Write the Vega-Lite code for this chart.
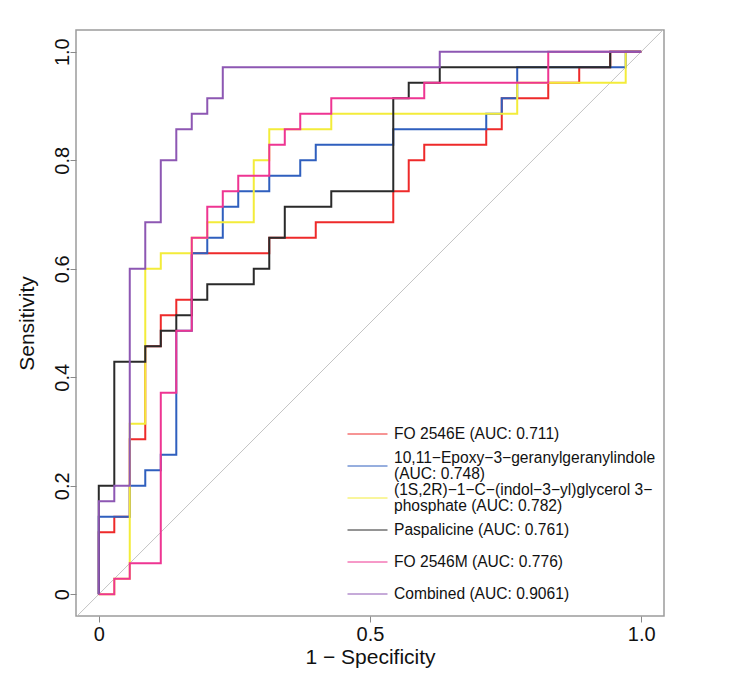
{
  "$schema": "https://vega.github.io/schema/vega-lite/v6.json",
  "width": 588,
  "height": 586,
  "autosize": {"type": "none"},
  "padding": {"left": 76, "top": 30, "right": 92, "bottom": 70},
  "background": "white",
  "config": {
    "font": "Liberation Sans",
    "view": {"stroke": "#9c9c9c", "strokeWidth": 1.5},
    "axis": {
      "grid": false,
      "domain": false,
      "tickColor": "#8a8a8a",
      "tickSize": 6,
      "tickWidth": 1,
      "labelFont": "Liberation Sans",
      "labelFontSize": 20,
      "labelColor": "#111111",
      "titleFont": "Liberation Sans",
      "titleFontSize": 21,
      "titleFontWeight": "normal",
      "titleColor": "#111111"
    }
  },
  "datasets": {
    "curves": [
      {"curve": "FO 2546E", "legend": "FO 2546E (AUC: 0.711)"},
      {"curve": "10,11-Epoxy-3-geranylgeranylindole", "legend": "10,11−Epoxy−3−geranylgeranylindole\n(AUC: 0.748)"},
      {"curve": "(1S,2R)-1-C-(indol-3-yl)glycerol 3-phosphate", "legend": "(1S,2R)−1−C−(indol−3−yl)glycerol 3−\nphosphate (AUC: 0.782)"},
      {"curve": "Paspalicine", "legend": "Paspalicine (AUC: 0.761)"},
      {"curve": "FO 2546M", "legend": "FO 2546M (AUC: 0.776)"},
      {"curve": "Combined", "legend": "Combined (AUC: 0.9061)"}
    ],
    "roc": [
      {"curve": "FO 2546E", "i": 0, "fpr": 0, "tpr": 0},
      {"curve": "FO 2546E", "i": 1, "fpr": 0, "tpr": 0.1143},
      {"curve": "FO 2546E", "i": 2, "fpr": 0.0286, "tpr": 0.1429},
      {"curve": "FO 2546E", "i": 3, "fpr": 0.0571, "tpr": 0.2857},
      {"curve": "FO 2546E", "i": 4, "fpr": 0.0857, "tpr": 0.4571},
      {"curve": "FO 2546E", "i": 5, "fpr": 0.1143, "tpr": 0.5143},
      {"curve": "FO 2546E", "i": 6, "fpr": 0.1429, "tpr": 0.5429},
      {"curve": "FO 2546E", "i": 7, "fpr": 0.1714, "tpr": 0.6286},
      {"curve": "FO 2546E", "i": 8, "fpr": 0.3143, "tpr": 0.6571},
      {"curve": "FO 2546E", "i": 9, "fpr": 0.4, "tpr": 0.6857},
      {"curve": "FO 2546E", "i": 10, "fpr": 0.5429, "tpr": 0.7429},
      {"curve": "FO 2546E", "i": 11, "fpr": 0.5714, "tpr": 0.8},
      {"curve": "FO 2546E", "i": 12, "fpr": 0.6, "tpr": 0.8286},
      {"curve": "FO 2546E", "i": 13, "fpr": 0.7143, "tpr": 0.8571},
      {"curve": "FO 2546E", "i": 14, "fpr": 0.7429, "tpr": 0.9143},
      {"curve": "FO 2546E", "i": 15, "fpr": 0.8286, "tpr": 0.9429},
      {"curve": "FO 2546E", "i": 16, "fpr": 0.8857, "tpr": 0.9714},
      {"curve": "FO 2546E", "i": 17, "fpr": 0.9429, "tpr": 1},
      {"curve": "FO 2546E", "i": 18, "fpr": 1, "tpr": 1},

      {"curve": "10,11-Epoxy-3-geranylgeranylindole", "i": 0, "fpr": 0, "tpr": 0},
      {"curve": "10,11-Epoxy-3-geranylgeranylindole", "i": 1, "fpr": 0, "tpr": 0.1429},
      {"curve": "10,11-Epoxy-3-geranylgeranylindole", "i": 2, "fpr": 0.0571, "tpr": 0.2},
      {"curve": "10,11-Epoxy-3-geranylgeranylindole", "i": 3, "fpr": 0.0857, "tpr": 0.2286},
      {"curve": "10,11-Epoxy-3-geranylgeranylindole", "i": 4, "fpr": 0.1143, "tpr": 0.2571},
      {"curve": "10,11-Epoxy-3-geranylgeranylindole", "i": 5, "fpr": 0.1429, "tpr": 0.4857},
      {"curve": "10,11-Epoxy-3-geranylgeranylindole", "i": 6, "fpr": 0.1714, "tpr": 0.6286},
      {"curve": "10,11-Epoxy-3-geranylgeranylindole", "i": 7, "fpr": 0.2, "tpr": 0.6571},
      {"curve": "10,11-Epoxy-3-geranylgeranylindole", "i": 8, "fpr": 0.2286, "tpr": 0.7143},
      {"curve": "10,11-Epoxy-3-geranylgeranylindole", "i": 9, "fpr": 0.2571, "tpr": 0.7429},
      {"curve": "10,11-Epoxy-3-geranylgeranylindole", "i": 10, "fpr": 0.3143, "tpr": 0.7714},
      {"curve": "10,11-Epoxy-3-geranylgeranylindole", "i": 11, "fpr": 0.3714, "tpr": 0.8},
      {"curve": "10,11-Epoxy-3-geranylgeranylindole", "i": 12, "fpr": 0.4, "tpr": 0.8286},
      {"curve": "10,11-Epoxy-3-geranylgeranylindole", "i": 13, "fpr": 0.5429, "tpr": 0.8571},
      {"curve": "10,11-Epoxy-3-geranylgeranylindole", "i": 14, "fpr": 0.7143, "tpr": 0.8857},
      {"curve": "10,11-Epoxy-3-geranylgeranylindole", "i": 15, "fpr": 0.7429, "tpr": 0.9143},
      {"curve": "10,11-Epoxy-3-geranylgeranylindole", "i": 16, "fpr": 0.7714, "tpr": 0.9714},
      {"curve": "10,11-Epoxy-3-geranylgeranylindole", "i": 17, "fpr": 0.9714, "tpr": 1},
      {"curve": "10,11-Epoxy-3-geranylgeranylindole", "i": 18, "fpr": 1, "tpr": 1},

      {"curve": "(1S,2R)-1-C-(indol-3-yl)glycerol 3-phosphate", "i": 0, "fpr": 0, "tpr": 0},
      {"curve": "(1S,2R)-1-C-(indol-3-yl)glycerol 3-phosphate", "i": 1, "fpr": 0.0286, "tpr": 0.0286},
      {"curve": "(1S,2R)-1-C-(indol-3-yl)glycerol 3-phosphate", "i": 2, "fpr": 0.0571, "tpr": 0.3143},
      {"curve": "(1S,2R)-1-C-(indol-3-yl)glycerol 3-phosphate", "i": 3, "fpr": 0.0857, "tpr": 0.6},
      {"curve": "(1S,2R)-1-C-(indol-3-yl)glycerol 3-phosphate", "i": 4, "fpr": 0.1143, "tpr": 0.6286},
      {"curve": "(1S,2R)-1-C-(indol-3-yl)glycerol 3-phosphate", "i": 5, "fpr": 0.1714, "tpr": 0.6571},
      {"curve": "(1S,2R)-1-C-(indol-3-yl)glycerol 3-phosphate", "i": 6, "fpr": 0.2, "tpr": 0.6857},
      {"curve": "(1S,2R)-1-C-(indol-3-yl)glycerol 3-phosphate", "i": 7, "fpr": 0.2857, "tpr": 0.8},
      {"curve": "(1S,2R)-1-C-(indol-3-yl)glycerol 3-phosphate", "i": 8, "fpr": 0.3143, "tpr": 0.8571},
      {"curve": "(1S,2R)-1-C-(indol-3-yl)glycerol 3-phosphate", "i": 9, "fpr": 0.4286, "tpr": 0.8857},
      {"curve": "(1S,2R)-1-C-(indol-3-yl)glycerol 3-phosphate", "i": 10, "fpr": 0.7714, "tpr": 0.9429},
      {"curve": "(1S,2R)-1-C-(indol-3-yl)glycerol 3-phosphate", "i": 11, "fpr": 0.9714, "tpr": 1},
      {"curve": "(1S,2R)-1-C-(indol-3-yl)glycerol 3-phosphate", "i": 12, "fpr": 1, "tpr": 1},

      {"curve": "Paspalicine", "i": 0, "fpr": 0, "tpr": 0},
      {"curve": "Paspalicine", "i": 1, "fpr": 0, "tpr": 0.2},
      {"curve": "Paspalicine", "i": 2, "fpr": 0.0286, "tpr": 0.4286},
      {"curve": "Paspalicine", "i": 3, "fpr": 0.0857, "tpr": 0.4571},
      {"curve": "Paspalicine", "i": 4, "fpr": 0.1143, "tpr": 0.4857},
      {"curve": "Paspalicine", "i": 5, "fpr": 0.1429, "tpr": 0.5143},
      {"curve": "Paspalicine", "i": 6, "fpr": 0.1714, "tpr": 0.5429},
      {"curve": "Paspalicine", "i": 7, "fpr": 0.2, "tpr": 0.5714},
      {"curve": "Paspalicine", "i": 8, "fpr": 0.2857, "tpr": 0.6},
      {"curve": "Paspalicine", "i": 9, "fpr": 0.3143, "tpr": 0.6571},
      {"curve": "Paspalicine", "i": 10, "fpr": 0.3429, "tpr": 0.7143},
      {"curve": "Paspalicine", "i": 11, "fpr": 0.4286, "tpr": 0.7429},
      {"curve": "Paspalicine", "i": 12, "fpr": 0.5429, "tpr": 0.9143},
      {"curve": "Paspalicine", "i": 13, "fpr": 0.5714, "tpr": 0.9429},
      {"curve": "Paspalicine", "i": 14, "fpr": 0.6286, "tpr": 0.9714},
      {"curve": "Paspalicine", "i": 15, "fpr": 0.9429, "tpr": 1},
      {"curve": "Paspalicine", "i": 16, "fpr": 1, "tpr": 1},

      {"curve": "FO 2546M", "i": 0, "fpr": 0, "tpr": 0},
      {"curve": "FO 2546M", "i": 1, "fpr": 0.0286, "tpr": 0.0286},
      {"curve": "FO 2546M", "i": 2, "fpr": 0.0571, "tpr": 0.0571},
      {"curve": "FO 2546M", "i": 3, "fpr": 0.1143, "tpr": 0.3714},
      {"curve": "FO 2546M", "i": 4, "fpr": 0.1429, "tpr": 0.4857},
      {"curve": "FO 2546M", "i": 5, "fpr": 0.1714, "tpr": 0.6571},
      {"curve": "FO 2546M", "i": 6, "fpr": 0.2, "tpr": 0.7143},
      {"curve": "FO 2546M", "i": 7, "fpr": 0.2286, "tpr": 0.7429},
      {"curve": "FO 2546M", "i": 8, "fpr": 0.2571, "tpr": 0.7714},
      {"curve": "FO 2546M", "i": 9, "fpr": 0.3143, "tpr": 0.8286},
      {"curve": "FO 2546M", "i": 10, "fpr": 0.3429, "tpr": 0.8571},
      {"curve": "FO 2546M", "i": 11, "fpr": 0.3714, "tpr": 0.8857},
      {"curve": "FO 2546M", "i": 12, "fpr": 0.4286, "tpr": 0.9143},
      {"curve": "FO 2546M", "i": 13, "fpr": 0.6, "tpr": 0.9429},
      {"curve": "FO 2546M", "i": 14, "fpr": 0.8286, "tpr": 1},
      {"curve": "FO 2546M", "i": 15, "fpr": 1, "tpr": 1},

      {"curve": "Combined", "i": 0, "fpr": 0, "tpr": 0},
      {"curve": "Combined", "i": 1, "fpr": 0, "tpr": 0.1714},
      {"curve": "Combined", "i": 2, "fpr": 0.0286, "tpr": 0.2},
      {"curve": "Combined", "i": 3, "fpr": 0.0571, "tpr": 0.6},
      {"curve": "Combined", "i": 4, "fpr": 0.0857, "tpr": 0.6857},
      {"curve": "Combined", "i": 5, "fpr": 0.1143, "tpr": 0.8},
      {"curve": "Combined", "i": 6, "fpr": 0.1429, "tpr": 0.8571},
      {"curve": "Combined", "i": 7, "fpr": 0.1714, "tpr": 0.8857},
      {"curve": "Combined", "i": 8, "fpr": 0.2, "tpr": 0.9143},
      {"curve": "Combined", "i": 9, "fpr": 0.2286, "tpr": 0.9714},
      {"curve": "Combined", "i": 10, "fpr": 0.6286, "tpr": 1},
      {"curve": "Combined", "i": 11, "fpr": 1, "tpr": 1}
    ]
  },
  "layer": [
    {
      "data": {"values": [{}]},
      "mark": {"type": "rule", "color": "#c4c4c4", "strokeWidth": 1, "clip": true},
      "encoding": {
        "x": {"datum": -0.1, "type": "quantitative"},
        "y": {"datum": -0.1, "type": "quantitative"},
        "x2": {"datum": 1.1},
        "y2": {"datum": 1.1}
      }
    },
    {
      "data": {"name": "roc"},
      "transform": [
        {"lookup": "curve", "from": {"data": {"name": "curves"}, "key": "curve", "fields": ["legend"]}}
      ],
      "mark": {"type": "line", "interpolate": "step-after", "strokeWidth": 2, "clip": true},
      "encoding": {
        "x": {
          "field": "fpr",
          "type": "quantitative",
          "scale": {"domain": [-0.042, 1.042], "nice": false, "zero": false},
          "axis": {
            "values": [0, 0.5, 1],
            "labelExpr": "datum.value == 0 ? '0' : format(datum.value, '.1f')",
            "labelPadding": 2,
            "title": "1 − Specificity",
            "titleY": 41,
            "titleBaseline": "middle"
          }
        },
        "y": {
          "field": "tpr",
          "type": "quantitative",
          "scale": {"domain": [-0.04, 1.04], "nice": false, "zero": false},
          "axis": {
            "values": [0, 0.2, 0.4, 0.6, 0.8, 1],
            "labelExpr": "datum.value == 0 ? '0' : format(datum.value, '.1f')",
            "labelAngle": -90,
            "labelAlign": "center",
            "labelBaseline": "alphabetic",
            "labelPadding": 2,
            "title": "Sensitivity",
            "titleAngle": -90,
            "titleX": -49,
            "titleY": 293,
            "titleAlign": "center",
            "titleBaseline": "middle"
          }
        },
        "color": {
          "field": "legend",
          "type": "nominal",
          "scale": {
            "domain": [
              "FO 2546E (AUC: 0.711)",
              "10,11−Epoxy−3−geranylgeranylindole\n(AUC: 0.748)",
              "(1S,2R)−1−C−(indol−3−yl)glycerol 3−\nphosphate (AUC: 0.782)",
              "Paspalicine (AUC: 0.761)",
              "FO 2546M (AUC: 0.776)",
              "Combined (AUC: 0.9061)"
            ],
            "range": ["#ee2a2a", "#2f5fbe", "#f3ec3a", "#2a2a2a", "#ee3592", "#8d57b3"]
          },
          "legend": {
            "title": null,
            "orient": "none",
            "legendX": 271,
            "legendY": 389,
            "padding": 0,
            "symbolType": "stroke",
            "symbolSize": 1600,
            "symbolStrokeWidth": 1,
            "labelFont": "Liberation Sans",
            "labelFontSize": 15.6,
            "labelBaseline": "bottom",
            "labelColor": "#111111",
            "labelOffset": 6,
            "labelLimit": 400,
            "labelExpr": "indexof(datum.label, '\\n') >= 0 ? split(datum.label, '\\n') : ['\u00a0', datum.label, '\u00a0']",
            "clipHeight": 30,
            "rowPadding": 0,
            "encode": {
              "labels": {"update": {"lineHeight": {"signal": "indexof(datum.label, '\\n') >= 0 ? 16 : 8"}}}
            }
          }
        },
        "order": {"field": "i", "type": "quantitative"}
      }
    }
  ]
}
